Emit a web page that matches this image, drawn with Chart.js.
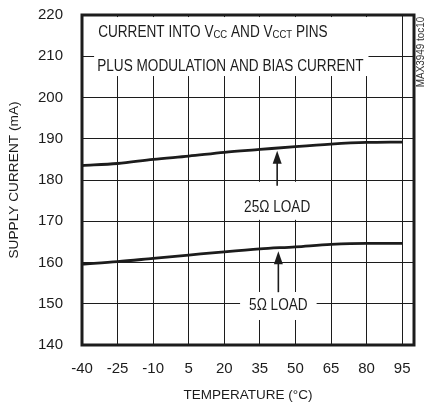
<!DOCTYPE html>
<html>
<head>
<meta charset="utf-8">
<script src="https://cdn.jsdelivr.net/npm/chart.js@4.4.0/dist/chart.umd.min.js"></script>
<style>
  html, body { margin: 0; padding: 0; background: #fff; }
  canvas { display: block; }
</style>
</head>
<body>
<canvas id="myChart" width="427" height="406"></canvas>
<script>
// data
const temps = [-40, -25, -10, 5, 20, 35, 50, 65, 80, 95];
const load25 = [183.5, 184.0, 185.0, 185.8, 186.7, 187.4, 188.1, 188.7, 189.1, 189.2];
const load5 = [159.6, 160.2, 161.0, 161.8, 162.6, 163.3, 163.8, 164.4, 164.65, 164.65];
const xTicks = [-40, -25, -10, 5, 20, 35, 50, 65, 80, 95];
const yTicks = [140, 150, 160, 170, 180, 190, 200, 210, 220];

const FONT = '"Liberation Sans", Arial, sans-serif';
const INK = '#1c1c1c';
const SQUEEZE = 0.85; // reference type is condensed

// label + arrow annotations (data coords)
const notes = [
  { text: '25Ω LOAD', x: 42.3, y: 173.5, arrowFrom: 178.6, arrowTo: 187.1, padX: 9, padTop: 25, padBottom: 13 },
  { text: '5Ω LOAD', x: 42.8, y: 149.7, arrowFrom: 152.8, arrowTo: 162.7, padX: 9, padTop: 13, padBottom: 15 }
];

// draws text with optional subscripts, squeezed horizontally
function drawRich(ctx, parts, x, y, size) {
  ctx.save();
  ctx.translate(x, y);
  ctx.scale(SQUEEZE, 1);
  let cx = 0;
  parts.forEach(p => {
    ctx.font = (p.sub ? size * 0.7 : size) + 'px ' + FONT;
    ctx.fillText(p.t, cx, p.sub ? 1 : 0);
    cx += ctx.measureText(p.t).width;
  });
  ctx.restore();
}

function labelWidth(ctx, text) {
  ctx.font = '16px ' + FONT;
  return ctx.measureText(text).width * SQUEEZE;
}

const overlay = {
  id: 'overlay',
  beforeDatasetsDraw(chart) {
    const ctx = chart.ctx, xs = chart.scales.x, ys = chart.scales.y;
    ctx.save();
    ctx.fillStyle = '#fff';
    // box behind the header note
    const l = xs.getPixelForValue(-34.9), r = xs.getPixelForValue(80.8);
    const t = ys.getPixelForValue(219.5), b = ys.getPixelForValue(205.2);
    ctx.fillRect(l, t, r - l, b - t);
    notes.forEach(n => {
      const w = labelWidth(ctx, n.text);
      const px = xs.getPixelForValue(n.x), py = ys.getPixelForValue(n.y);
      ctx.fillRect(px - w / 2 - n.padX, py - n.padTop, w + 2 * n.padX, n.padTop + n.padBottom);
    });
    ctx.restore();
  },
  afterDraw(chart) {
    const ctx = chart.ctx, xs = chart.scales.x, ys = chart.scales.y;
    const a = chart.chartArea;
    ctx.save();
    ctx.fillStyle = INK;
    ctx.strokeStyle = INK;
    // header note
    ctx.textBaseline = 'alphabetic';
    ctx.textAlign = 'left';
    drawRich(ctx, [{ t: 'CURRENT INTO V' }, { t: 'CC', sub: true }, { t: ' AND V' }, { t: 'CCT', sub: true }, { t: ' PINS' }],
      xs.getPixelForValue(-33.2), ys.getPixelForValue(214.7), 16);
    drawRich(ctx, [{ t: 'PLUS MODULATION AND BIAS CURRENT' }],
      xs.getPixelForValue(-33.6), ys.getPixelForValue(206.5), 16);

    // load labels and arrows
    notes.forEach(n => {
      const px = xs.getPixelForValue(n.x);
      const w = labelWidth(ctx, n.text);
      ctx.textBaseline = 'middle';
      drawRich(ctx, [{ t: n.text }], px - w / 2, ys.getPixelForValue(n.y) + 1, 16);
      const y0 = ys.getPixelForValue(n.arrowFrom), y1 = ys.getPixelForValue(n.arrowTo);
      ctx.lineWidth = 1.6;
      ctx.beginPath();
      ctx.moveTo(px, y0);
      ctx.lineTo(px, y1 + 10);
      ctx.stroke();
      ctx.beginPath();
      ctx.moveTo(px, y1);
      ctx.lineTo(px - 4.5, y1 + 13);
      ctx.lineTo(px + 4.5, y1 + 13);
      ctx.closePath();
      ctx.fill();
    });

    // heavy frame
    ctx.lineWidth = 3;
    ctx.strokeRect(a.left, a.top, a.right - a.left, a.bottom - a.top);

    // figure code
    ctx.translate(421, 52);
    ctx.rotate(-Math.PI / 2);
    ctx.scale(0.9, 1);
    ctx.font = '11px ' + FONT;
    ctx.textAlign = 'center';
    ctx.textBaseline = 'middle';
    ctx.fillStyle = '#333';
    ctx.fillText('MAX3949 toc10', 0, 0);
    ctx.restore();
  }
};

function createChart() {
  const ctx = document.getElementById('myChart').getContext('2d');
  const lineStyle = { borderColor: INK, borderWidth: 2.8, pointRadius: 0, fill: false, cubicInterpolationMode: 'monotone' };
  return new Chart(ctx, {
    type: 'line',
    data: {
      datasets: [
        Object.assign({ label: '25Ω LOAD', data: temps.map((t, i) => ({ x: t, y: load25[i] })) }, lineStyle),
        Object.assign({ label: '5Ω LOAD', data: temps.map((t, i) => ({ x: t, y: load5[i] })) }, lineStyle)
      ]
    },
    options: {
      responsive: false,
      animation: false,
      layout: { padding: { left: 0, top: 15, right: 13, bottom: 0 } },
      plugins: { legend: { display: false }, tooltip: { enabled: false } },
      scales: {
        x: {
          type: 'linear',
          min: -40,
          max: 100,
          afterBuildTicks: s => { s.ticks = xTicks.map(v => ({ value: v })); },
          afterFit: s => { s.height = 61; s.paddingLeft = 0; s.paddingRight = 0; },
          grid: { color: INK, lineWidth: 1, drawTicks: false },
          border: { display: false },
          ticks: { font: { family: FONT, size: 15 }, color: INK, padding: 15, maxRotation: 0, autoSkip: false },
          title: { display: true, text: 'TEMPERATURE (°C)', font: { family: FONT, size: 13.5 }, color: INK, padding: { top: 0, bottom: 3 } }
        },
        y: {
          type: 'linear',
          min: 140,
          max: 220,
          afterBuildTicks: s => { s.ticks = yTicks.map(v => ({ value: v })); },
          afterFit: s => { s.width = 82; s.paddingTop = 0; s.paddingBottom = 0; },
          grid: { color: INK, lineWidth: 1, drawTicks: false },
          border: { display: false },
          ticks: { font: { family: FONT, size: 15 }, color: INK, padding: 19, autoSkip: false },
          title: { display: true, text: 'SUPPLY CURRENT (mA)', font: { family: FONT, size: 13.7 }, color: INK, padding: { top: 6, bottom: 0 } }
        }
      }
    },
    plugins: [overlay]
  });
}

createChart();
</script>
</body>
</html>
